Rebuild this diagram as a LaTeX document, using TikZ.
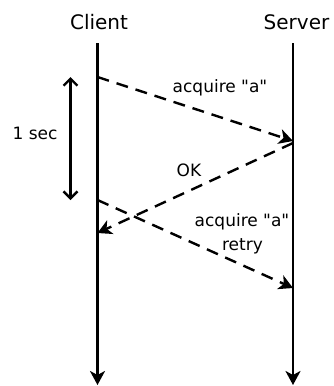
\documentclass[tikz,border=0pt]{standalone}
\usepackage{fontspec}
\setmainfont{DejaVu Sans}[Ligatures=TeXOff]
\usetikzlibrary{arrows.meta}
\begin{document}
\begin{tikzpicture}[x=1pt,y=-1pt,
  life/.style={line width=2.4pt,-{Stealth[length=14pt,width=15pt,inset=4pt]}},
  msg/.style={line width=2.4pt,dash pattern=on 12pt off 8pt,-{Stealth[length=14pt,width=15pt,inset=4pt]}},
  span/.style={line width=2.4pt,{Straight Barb[length=7pt,width=14pt]}-{Straight Barb[length=7pt,width=14pt]}},
  title/.style={inner sep=0pt,font=\fontsize{20}{22}\selectfont},
  lbl/.style={inner sep=0pt,font=\fontsize{17}{19}\selectfont}]
\useasboundingbox (0,0) rectangle (333,386);
\node[title] (client) at (99,22) {Client};
\node[title] (server) at (296.5,22) {Server};
\coordinate (ctop) at (97.5,43);
\coordinate (cbot) at (97.5,385);
\coordinate (stop) at (293,43);
\coordinate (sbot) at (293,385);
\draw[life] (ctop) -- (cbot);
\draw[life] (stop) -- (sbot);
\coordinate (c1) at (97.5,77);
\coordinate (s1) at (293,141);
\coordinate (s2) at (293,143);
\coordinate (c2) at (97.5,233);
\coordinate (c3) at (97.5,200);
\coordinate (s3) at (293,288);
\draw[msg] (c1) -- (s1);
\draw[msg] (s2) -- (c2);
\draw[msg] (c3) -- (s3);
\coordinate (t1) at (70.5,77);
\coordinate (t2) at (70.5,200);
\draw[span] (t1) -- (t2);
\node[lbl] (l1) at (220,88) {acquire "a"};
\node[lbl] (l2) at (189,170) {OK};
\node[lbl] (l3) at (35,133) {1 sec};
\node[lbl] (l4) at (242,222) {acquire "a"};
\node[lbl] (l5) at (242.5,246) {retry};
\end{tikzpicture}
\end{document}
